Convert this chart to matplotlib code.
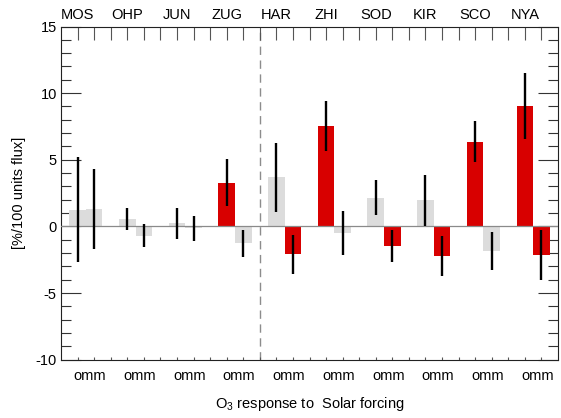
import matplotlib
matplotlib.use("Agg")
import matplotlib.pyplot as plt
import matplotlib.transforms as mtransforms
from matplotlib.ticker import MultipleLocator, FixedLocator, NullFormatter

plt.rcParams['font.family'] = ['Liberation Sans', 'DejaVu Sans']
plt.rcParams['mathtext.fontset'] = 'custom'
plt.rcParams['mathtext.rm'] = 'Liberation Sans'
plt.rcParams['axes.unicode_minus'] = False

# Stations and O3 response to solar forcing [%/100 units flux]
stations = ['MOS', 'OHP', 'JUN', 'ZUG', 'HAR', 'ZHI', 'SOD', 'KIR', 'SCO', 'NYA']
instruments = ['omm'] * 10

resp_a = [1.25, 0.57, 0.24, 3.28, 3.70, 7.53, 2.15, 1.95, 6.36, 9.02]
err_a = [3.95, 0.83, 1.15, 1.76, 2.58, 1.85, 1.31, 1.93, 1.54, 2.47]
sig_a = [0, 0, 0, 1, 0, 1, 0, 0, 1, 1]

resp_b = [1.30, -0.68, -0.15, -1.27, -2.08, -0.50, -1.47, -2.22, -1.83, -2.12]
err_b = [2.98, 0.85, 0.97, 1.00, 1.47, 1.65, 1.17, 1.49, 1.44, 1.87]
sig_b = [0, 0, 0, 0, 1, 0, 1, 1, 0, 1]

n_midlat = 4  # stations left of the divider

RED = '#d80000'
GREY = '#dcdcdc'
FS = 10.5

fig = plt.figure(figsize=(5.61, 4.18), dpi=100)
ax = fig.add_axes([0.1087, 0.1392, 0.8860, 0.7974])

n = len(stations)
xa = [3 * i + 1 for i in range(n)]
xb = [3 * i + 2 for i in range(n)]

ax.bar(xa, resp_a, width=1.0, color=[RED if s else GREY for s in sig_a], zorder=2)
ax.bar(xb, resp_b, width=1.0, color=[RED if s else GREY for s in sig_b], zorder=2)

ax.axhline(0, color='#8a8a8a', lw=0.9, zorder=3)

ax.vlines(xa, [v - e for v, e in zip(resp_a, err_a)], [v + e for v, e in zip(resp_a, err_a)],
          color='black', lw=1.7, zorder=4)
ax.vlines(xb, [v - e for v, e in zip(resp_b, err_b)], [v + e for v, e in zip(resp_b, err_b)],
          color='black', lw=1.7, zorder=4)

ax.axvline(3 * n_midlat, color='#8c8c8c', lw=1.0, linestyle=(0, (6, 4)), zorder=1)

ax.set_xlim(0, 3 * n)
ax.set_ylim(-10, 15)

# y axis: long major ticks every 5, short minor ticks every 1, both sides, inward
ax.yaxis.set_major_locator(MultipleLocator(5))
ax.yaxis.set_minor_locator(MultipleLocator(1))
ax.tick_params(axis='y', which='major', direction='in', length=14.4, width=0.8,
               left=True, right=True, labelsize=FS, pad=3, color='#333333')
ax.tick_params(axis='y', which='minor', direction='in', length=7.2, width=0.8,
               left=True, right=True, color='#333333')

# x axis: long ticks along the top, short ticks along the bottom
tick_pos = list(range(1, 3 * n))
ax.xaxis.remove_overlapping_locs = False
ax.xaxis.set_major_locator(FixedLocator(tick_pos))
ax.xaxis.set_minor_locator(FixedLocator(tick_pos))
ax.xaxis.set_major_formatter(NullFormatter())
ax.xaxis.set_minor_formatter(NullFormatter())
ax.tick_params(axis='x', which='major', direction='in', length=9.4, width=0.8,
               top=True, bottom=False, color='#555555')
ax.tick_params(axis='x', which='minor', direction='in', length=2.2, width=0.8,
               top=False, bottom=True, color='#555555')

for sp in ax.spines.values():
    sp.set_linewidth(0.8)
    sp.set_color('#222222')

trans = mtransforms.blended_transform_factory(ax.transData, ax.transAxes)
for i in range(n):
    ax.text(3 * i + 1, 1.0 + 11.0 / 333, stations[i], transform=trans,
            ha='center', va='center', fontsize=FS)
    ax.text(3 * i + 1.75, -20.0 / 333, instruments[i], transform=trans,
            ha='center', va='baseline', fontsize=FS)

ax.set_ylabel('[%/100 units flux]', fontsize=FS, labelpad=7)
fig.text(310 / 561, 10 / 418, r'O$_\mathregular{3}$ response to  Solar forcing',
         ha='center', va='baseline', fontsize=FS)

fig.savefig('out.png', dpi=100, facecolor='white')
